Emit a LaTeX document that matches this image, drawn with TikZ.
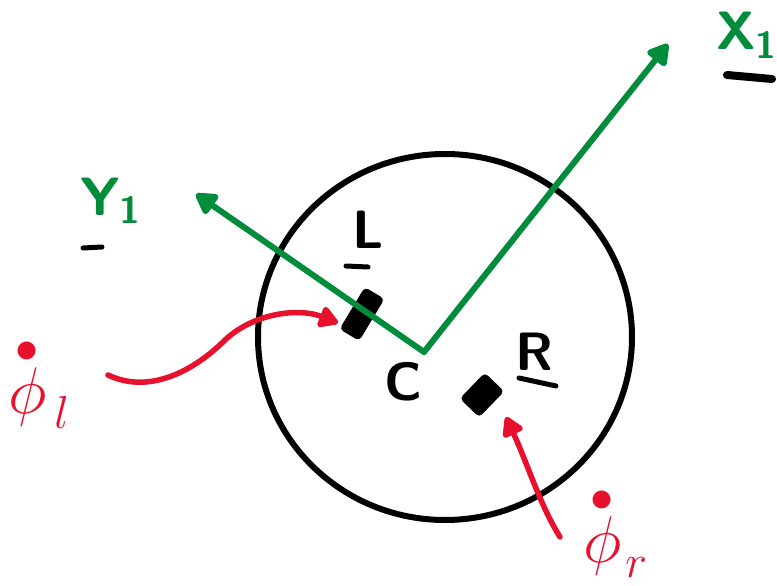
\documentclass[tikz,border=0pt]{standalone}
\usepackage{fix-cm}
\usepackage{amsmath}
\usetikzlibrary{arrows.meta,shapes.geometric}
\definecolor{pgreen}{RGB}{0,140,58}
\definecolor{pred}{RGB}{232,17,45}
\begin{document}
\begin{tikzpicture}[x=1pt,y=-1pt,
  gaxis/.style={draw=pgreen, line width=6pt, line cap=round, -{Triangle[length=24pt,width=26pt,round]}},
  rate/.style={draw=pred, line width=5.5pt, line cap=round, -{Triangle[length=22pt,width=24pt,round]}},
  lbl/.style={inner sep=0pt, font=\fontsize{54}{60}\selectfont\sffamily\bfseries},
  grn/.style={lbl, text=pgreen},
  ul/.style={draw=black, line width=5pt, line cap=round},
  philbl/.style={inner sep=0pt, text=pred, font=\fontsize{66}{72}\selectfont},
  wheelbox/.style={fill=black, draw=black, line width=3pt, rounded corners=3pt, inner sep=0pt}
]
\useasboundingbox (0,0) rectangle (777,586);
% body
\node[ellipse, draw, line width=6pt, minimum width=374pt, minimum height=366pt, inner sep=0pt] (body) at (445,337) {};
% wheels
\node[wheelbox, minimum width=46pt, minimum height=20pt, rotate=59] (wl) at (362,314) {};
\node[wheelbox, minimum width=33pt, minimum height=24pt, rotate=46] (wr) at (482,395) {};
% axes
\coordinate (C0) at (424,352);
\coordinate (xtip) at (668,44);
\coordinate (ytip) at (196,194);
\draw[gaxis] (C0) -- (xtip);
\draw[gaxis] (C0) -- (ytip);
% wheel rates
\coordinate (lstart) at (108,375);
\coordinate (ltip) at (338,323);
\draw[rate] (lstart) .. controls (150,395) and (195,370) .. (225,340) .. controls (255,312) and (300,308) .. (ltip);
\coordinate (rstart) at (560,537);
\coordinate (rtip) at (506,417);
\draw[rate] (rstart) .. controls (540,505) and (528,465) .. (rtip);
% labels
\node[grn, anchor=base west] (ylab) at (80,215) {Y\textsubscript{1}};
\node[grn, anchor=base west] (xlab) at (716,50) {X\textsubscript{1}};
\node[lbl] (llab) at (368,230) {L};
\node[lbl] (clab) at (403,382) {C};
\node[lbl] (rlab) at (534,352) {R};
\draw[ul] (83,248) -- (102,247);
\draw[ul, line width=8pt] (727,75) -- (772,79);
\draw[ul] (346,266) -- (368,267);
\draw[ul] (519,378) -- (556,386);
\node[philbl, anchor=base west] (phil) at (8,413) {$\overset{\bullet}{\phi}_{\hspace{8pt}l}$};
\node[philbl, anchor=base west] (phir) at (583,562) {$\overset{\bullet}{\phi}_{\hspace{4pt}r}$};
\end{tikzpicture}
\end{document}
